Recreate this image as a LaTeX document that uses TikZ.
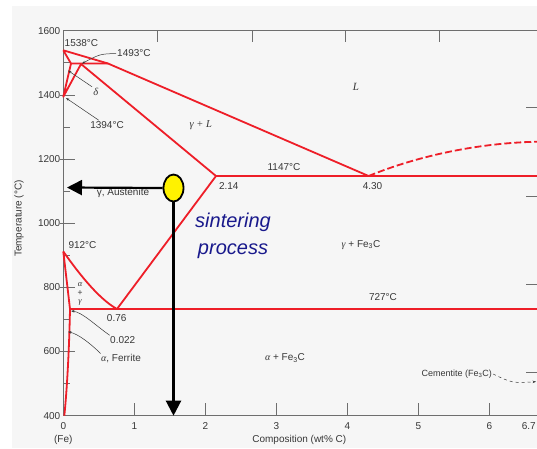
\documentclass[tikz,border=0pt]{standalone}
\usepackage{fontspec}
\setmainfont{Liberation Sans}
\newfontfamily\tms{Liberation Serif}
\usetikzlibrary{arrows.meta,shapes.geometric}
\definecolor{phase}{RGB}{238,30,40}
\definecolor{axisgray}{RGB}{110,110,110}
\definecolor{txtgray}{RGB}{55,55,55}
\definecolor{sinter}{RGB}{25,25,140}
\definecolor{bggray}{RGB}{246,246,246}
\begin{document}
\begin{tikzpicture}[x=1pt,y=-1pt,
  phaseline/.style={draw=phase,line width=1.8pt,line join=round},
  axisline/.style={draw=axisgray,line width=0.8pt},
  leader/.style={draw=txtgray,line width=0.5pt,-{Stealth[length=3.5pt,width=2.5pt]}},
  bigarrow/.style={draw=black,line width=2.2pt,-{Triangle[length=15pt,width=15pt]}},
  lbl/.style={text=txtgray,font=\fontsize{10}{12}\selectfont,inner sep=1pt},
  phaselbl/.style={text=txtgray,font=\tms\itshape\fontsize{10.5}{12}\selectfont,inner sep=1pt}]
\clip (0,0) rectangle (537,448);
\fill[white] (0,0) rectangle (537,448);
\fill[bggray] (12,6) rectangle (537,448);

% frame and ticks
\draw[axisline,line width=0.9pt] (537,30.5) -- (63.3,30.5) -- (63.3,415.7) -- (537,415.7);
\foreach \y in {94.9,159.1,223.2,287.4,351.5}
  \draw[axisline] (60,\y) -- (75,\y);
\foreach \y in {62.8,127,191.2,255.3,319.4,383.6}
  \draw[axisline] (63.3,\y) -- (70,\y);
\foreach \x in {157.7,252,345,439.3}
  \draw[axisline] (\x,30.5) -- (\x,42);
\foreach \y in {107.3,196,284.3,372.7}
  \draw[axisline] (526,\y) -- (537,\y);
\foreach \i in {1,...,6}
  \draw[axisline] ({63.3+71*\i},403) -- ({63.3+71*\i},415.7);

\foreach \y/\t in {30.7/1600,94.9/1400,159.1/1200,223.2/1000,287.4/800,351.5/600,415.7/400}
  \node[lbl,anchor=east] at (61.5,\y) {\t};
\foreach \i in {0,...,6}
  \node[lbl] at ({63.3+71*\i},426) {\i};
\node[lbl,anchor=east] (t67) at (537,426) {6.7};
\node[lbl] (fe) at (63.3,439.5) {(Fe)};
\node[lbl] (xlab) at (299.3,440) {Composition (wt\% C)};
\node[lbl,rotate=90] (ylab) at (19,218.5) {Temperature (°C)};

% phase boundaries
\coordinate (P1538) at (63.3,50.3);
\coordinate (Pd) at (71,63.5);
\coordinate (Pg) at (81,64);
\coordinate (Pl) at (108,63.5);
\coordinate (P1394) at (63.3,96.8);
\coordinate (P214) at (216,176);
\coordinate (P430) at (368.6,176);
\coordinate (Ee) at (537,176);
\coordinate (P912) at (63.3,251.5);
\coordinate (P076) at (117,309);
\coordinate (P022) at (70,309);
\coordinate (Pb) at (64.3,415.7);
\coordinate (Ed) at (537,309);
\coordinate (Lr) at (537,141.7);

\draw[phaseline] (P1538) -- (Pl) -- (P430) -- (Ee);
\draw[phaseline] (P1538) -- (Pd) -- (Pl);
\draw[phaseline] (Pd) -- (P1394) -- (Pg) -- (P214) -- (P430);
\draw[phaseline] (P214) -- (P076);
\draw[phaseline] (P912) .. controls (75,268) and (97,298) .. (P076);
\draw[phaseline] (P912) -- (P022) .. controls (69,360) and (66,400) .. (Pb);
\draw[phaseline] (P022) -- (Ed);
\draw[phaseline,dash pattern=on 7pt off 3pt] (P430) .. controls (420,155) and (480,143) .. (Lr);

% labels
\node[lbl,anchor=west] (t1538) at (63.5,42.7) {1538°C};
\node[lbl,anchor=west] (t1493) at (116,53.5) {1493°C};
\coordinate (c1493) at (82,63.5);
\draw[leader] (t1493.west) .. controls (100,54) .. (c1493);
\node[phaselbl] (tdelta) at (95.7,91.7) {δ};
\coordinate (cdelta) at (68,70.5);
\draw[leader] (tdelta.north west) -- (cdelta);
\node[lbl] (t1394) at (107,125) {1394°C};
\coordinate (c1394) at (66,98);
\draw[leader] (t1394.150) -- (c1394);
\node[phaselbl,font=\tms\itshape\fontsize{11}{12}\selectfont] (tL) at (356,87) {L};
\node[phaselbl] (tgL) at (200.7,125) {γ + L};
\node[lbl] (t1147) at (284,167) {1147°C};
\node[lbl] (t214) at (228.8,186) {2.14};
\node[lbl] (t430) at (372.5,186) {4.30};
\node[lbl] (t912) at (82.5,245) {912°C};
\node[phaselbl,font=\tms\itshape\fontsize{8.5}{9}\selectfont] (ta) at (80,284.5) {α};
\node[lbl,font=\fontsize{8.5}{9}\selectfont] (tp) at (80,293.5) {+};
\node[phaselbl,font=\tms\itshape\fontsize{8.5}{9}\selectfont] (tg) at (80,302.5) {γ};
\node[lbl] (t076) at (116.7,318.5) {0.76};
\node[lbl] (t022) at (122.7,340) {0.022};
\coordinate (c022) at (71,311);
\draw[leader] (t022.160) .. controls (95,325) and (82,312) .. (c022);
\node[lbl] (tfer) at (121,359) {{\tms\itshape α}, Ferrite};
\coordinate (cfer) at (68,331.7);
\draw[leader] (tfer.165) .. controls (90,343) and (78,334) .. (cfer);
\node[lbl] (t727) at (383,296.7) {727°C};
\node[lbl] (taFe) at (285,358) {{\tms\itshape α} + Fe\textsubscript{3}C};
\node[lbl] (tgFe) at (361,245) {{\tms\itshape γ} + Fe\textsubscript{3}C};
\node[lbl,font=\fontsize{9}{11}\selectfont] (tcem) at (456.7,374) {Cementite (Fe\textsubscript{3}C)};
\coordinate (ccem) at (536,381.7);
\draw[leader,dashed] (tcem.east) .. controls (512,383) .. (ccem);

% sintering process
\node[lbl] (taus) at (123,192.7) {γ, Austenite};
\node[draw=black,line width=1.8pt,fill=yellow,ellipse,minimum width=20pt,minimum height=27pt,inner sep=0pt] (pt) at (173.5,188) {};
\coordinate (aus) at (67,187.5);
\coordinate (base) at (173.5,415.7);
\draw[bigarrow] (pt.west) -- (aus);
\draw[bigarrow] (pt.south) -- (base);
\node[text=sinter,font=\itshape\fontsize{20}{27}\selectfont,align=center] (sint) at (233,235.5) {sintering\\process};
\end{tikzpicture}
\end{document}
